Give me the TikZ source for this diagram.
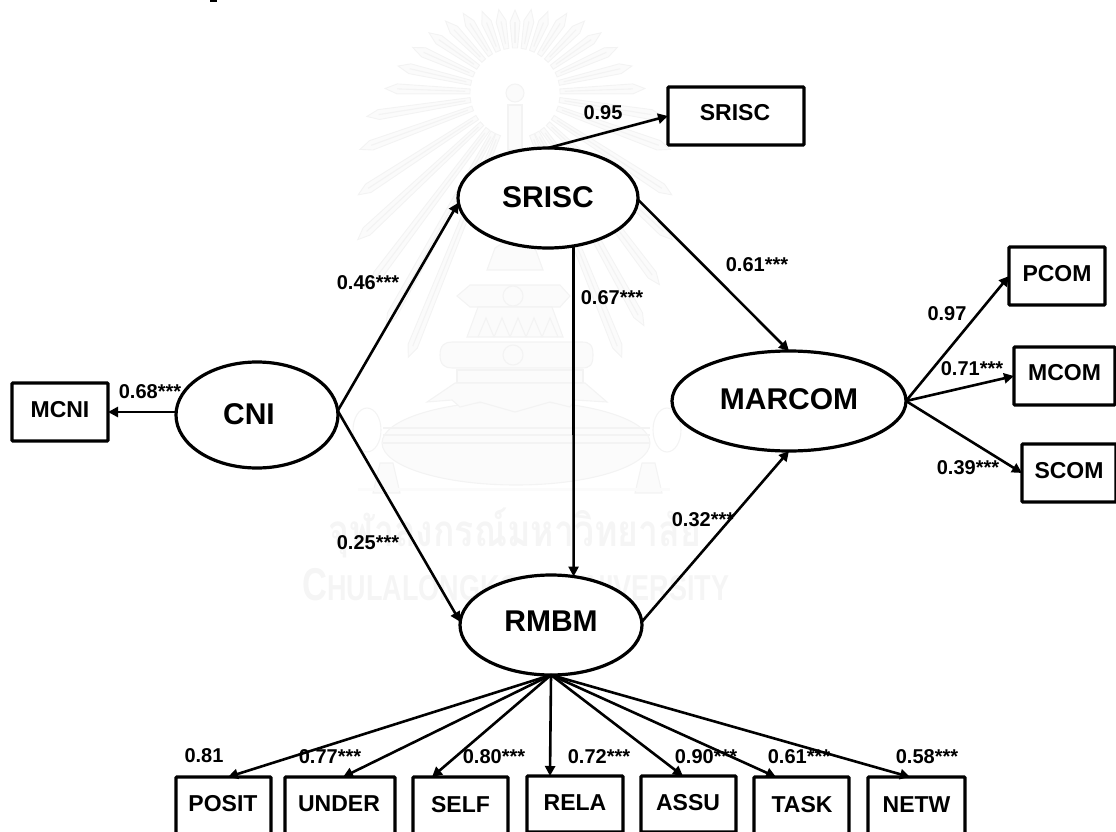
\documentclass[tikz,border=0pt]{standalone}
\usepackage{fontspec}
\setmainfont{Liberation Sans}
\newfontfamily\thaifont[Script=Thai]{Loma}
\usetikzlibrary{arrows.meta,shapes.geometric}
\definecolor{wmline}{HTML}{F3F3F3}
\definecolor{wmfill}{HTML}{FBFBFB}
\definecolor{wmtext}{HTML}{F5F5F5}
\newcommand{\off}[3]{\hspace*{#1pt}\raisebox{#2pt}[\height][\depth]{#3}}
\tikzset{
  x=1pt,y=-1pt,
  latent/.style={draw=black,line width=3.2pt,fill=white,ellipse,inner sep=0pt,outer sep=0pt,font=\fontsize{30}{30}\selectfont\bfseries},
  obs/.style={draw=black,line width=3.2pt,fill=white,rectangle,rounded corners=0.8pt,inner sep=0pt,outer sep=0pt,font=\fontsize{23}{23}\selectfont\bfseries},
  coef/.style={inner sep=0pt,font=\fontsize{20}{20}\selectfont\bfseries},
  arr/.style={draw=black,line width=2.6pt,-{Triangle[length=10pt,width=10pt]}},
  wmray/.style={draw=wmline,fill=wmfill,line width=0.9pt},
  wmstroke/.style={draw=wmline,line width=1.1pt},
  wmshape/.style={draw=wmline,fill=wmfill,line width=1.1pt},
}
\begin{document}
\begin{tikzpicture}
\useasboundingbox (0,0) rectangle (1116,832);
% stray mark at the top edge
\fill[black] (210,0) rectangle (217,2);
% watermark: rays
\foreach \a/\r in {90/83,79/85,68/88,57/95,46/100,35/105,24/112,13/120,2/130,-9/150,-20/165,-33/187,-43/215,-53/240,-61/266,-68/285,
  101/85,112/88,123/95,134/100,145/105,156/112,167/120,178/130,189/150,200/165,213/187,223/215,233/240,241/266,248/285}{
  \pgfmathsetmacro\rb{\r-12}
  \draw[wmray,shift={(515,93)},rotate=\a] (45pt,2.5pt) -- (\rb pt,5pt) -- (\r pt,0pt) -- (\rb pt,-5pt) -- (45pt,-2.5pt) -- cycle;
  \draw[wmstroke,shift={(515,93)},rotate=\a] (50pt,0pt) -- (\rb pt,0pt);
}
% watermark: pole and pagoda
\draw[wmshape] (508,105) rectangle (522,150);
\draw[wmshape] (515,93) circle [radius=9];
\draw[wmshape] (487,270) -- (495,248) -- (515,235) -- (535,248) -- (543,270) -- cycle;
\draw[wmshape] (457,296) -- (470,285) -- (560,285) -- (570,296) -- (560,307) -- (470,307) -- cycle;
\draw[wmshape] (513,296) circle [radius=10];
\draw[wmshape] (467,337) -- (478,307) -- (552,307) -- (563,337) -- cycle;
\foreach \q in {478,494,510,526,542}{\draw[wmstroke] (\q,337) -- (\q+8,318) -- (\q+16,337);}
\draw[wmshape] (440,355) .. controls (440,345) and (445,342) .. (452,342) -- (582,342) .. controls (590,342) and (593,345) .. (593,355) .. controls (593,365) and (590,368) .. (582,368) -- (452,368) .. controls (445,368) and (440,365) .. (440,355) -- cycle;
\draw[wmshape] (513,355) circle [radius=10];
\draw[wmshape] (457,370) rectangle (583,383);
% watermark: bowl, knots and tassels
\draw[wmshape] (516,443) ellipse [x radius=134,y radius=42];
\draw[wmshape] (427,402) -- (455,383) -- (585,383) -- (607,402) -- (575,400) -- (570,407) -- (550,402) -- (515,412) -- (480,402) -- (460,407) -- (452,400) -- cycle;
\foreach \q in {428,435,443}{\draw[wmstroke] (383,\q) -- (650,\q);}
\draw[wmstroke] (367,430) ellipse [x radius=14,y radius=22];
\draw[wmstroke] (667,430) ellipse [x radius=14,y radius=22];
\draw[wmshape] (380,463) -- (393,463) -- (400,493) -- (373,493) -- cycle;
\draw[wmshape] (642,463) -- (655,463) -- (662,493) -- (635,493) -- cycle;
\draw[draw=wmfill,line width=3pt] (358,489) -- (670,489);
% watermark: text
\node[inner sep=0pt,text=wmtext,xscale=0.81,font=\fontsize{44}{44}\selectfont\thaifont\bfseries] (wmthai) at (515,533) {จุฬาลงกรณ์มหาวิทยาลัย};
\node[inner sep=0pt,text=wmtext,xscale=0.75,font=\bfseries] (wmuni) at (516,585) {\fontsize{46}{46}\selectfont C\fontsize{36}{36}\selectfont HULALONGKORN UNIVERSITY};
% latent variables
\node[latent,minimum width=162pt,minimum height=106pt] (cni) at (257,415) {\off{-16}{1}{CNI}};
\node[latent,minimum width=180pt,minimum height=100pt] (srisc) at (548,198) {\off{0}{1}{SRISC}};
\node[latent,minimum width=234pt,minimum height=100pt] (marcom) at (789,401) {\off{0}{2}{MARCOM}};
\node[latent,minimum width=182pt,minimum height=100pt] (rmbm) at (551,625) {\off{0}{4}{RMBM}};
% observed variables
\node[obs,minimum width=96pt,minimum height=58pt] (mcni) at (60,412) {\off{0}{2}{MCNI}};
\node[obs,minimum width=136pt,minimum height=58pt] (sriscbox) at (736,116) {\off{-2}{3}{SRISC}};
\node[obs,minimum width=96pt,minimum height=58pt] (pcom) at (1057,276) {\off{0}{2}{PCOM}};
\node[obs,minimum width=101pt,minimum height=58pt] (mcom) at (1064.5,376) {\off{0}{3}{MCOM}};
\node[obs,minimum width=94pt,minimum height=58pt] (scom) at (1069,473) {\off{0}{2}{SCOM}};
\node[obs,minimum width=95pt,minimum height=57pt] (posit) at (223.5,805.5) {\off{-1}{1.5}{POSIT}};
\node[obs,minimum width=110pt,minimum height=57pt] (under) at (340,805.5) {\off{-2}{1.5}{UNDER}};
\node[obs,minimum width=95pt,minimum height=57pt] (self) at (460.5,805.5) {\off{0}{0.5}{SELF}};
\node[obs,minimum width=96pt,minimum height=56pt] (rela) at (575,804) {\off{0}{1}{RELA}};
\node[obs,minimum width=95pt,minimum height=56pt] (assu) at (688.5,804) {\off{-1}{1}{ASSU}};
\node[obs,minimum width=95pt,minimum height=57pt] (task) at (801.5,805.5) {\off{1}{0.5}{TASK}};
\node[obs,minimum width=97pt,minimum height=57pt] (netw) at (916.5,805.5) {\off{0}{0.5}{NETW}};
% structural paths
\draw[arr] (cni.west |- mcni.east) -- (mcni.east);
\draw[arr] (cni.3) -- (srisc.183);
\draw[arr] (cni.3) -- (rmbm.178);
\draw[arr] (srisc.-62.5) -- (rmbm.65.6);
\draw[arr] (srisc.-1) -- (marcom.north);
\draw[arr] (rmbm.2) -- (marcom.south);
\draw[arr] (srisc.north) -- (sriscbox.west);
\draw[arr] (marcom.east) -- (pcom.west);
\draw[arr] (marcom.east) -- (mcom.west);
\draw[arr] (marcom.east) -- (scom.west);
\draw[arr] (rmbm.south) -- ([xshift=4.5pt]posit.north);
\draw[arr] (rmbm.south) -- ([xshift=3pt]under.north);
\draw[arr] (rmbm.south) -- ([xshift=-28.5pt]self.north);
\draw[arr] (rmbm.south) -- ([xshift=-25pt]rela.north);
\draw[arr] (rmbm.south) -- ([xshift=-5.5pt]assu.north);
\draw[arr] (rmbm.south) -- ([xshift=-25.5pt]task.north);
\draw[arr] (rmbm.south) -- ([xshift=-6.5pt]netw.north);
% coefficients
\node[coef] (c1) at (603,113) {0.95};
\node[coef] (c2) at (368,283) {0.46***};
\node[coef] (c3) at (612,298) {0.67***};
\node[coef] (c4) at (757,265) {0.61***};
\node[coef] (c5) at (150,392) {0.68***};
\node[coef] (c6) at (368,543) {0.25***};
\node[coef] (c7) at (703,520) {0.32***};
\node[coef] (c8) at (947,314) {0.97};
\node[coef] (c9) at (972,369) {0.71***};
\node[coef] (c10) at (968,468) {0.39***};
\node[coef] (c11) at (204,756) {0.81};
\node[coef] (c12) at (330,757) {0.77***};
\node[coef] (c13) at (494,757) {0.80***};
\node[coef] (c14) at (599,757) {0.72***};
\node[coef] (c15) at (706,757) {0.90***};
\node[coef] (c16) at (799,757) {0.61***};
\node[coef] (c17) at (927,757) {0.58***};
\end{tikzpicture}
\end{document}
